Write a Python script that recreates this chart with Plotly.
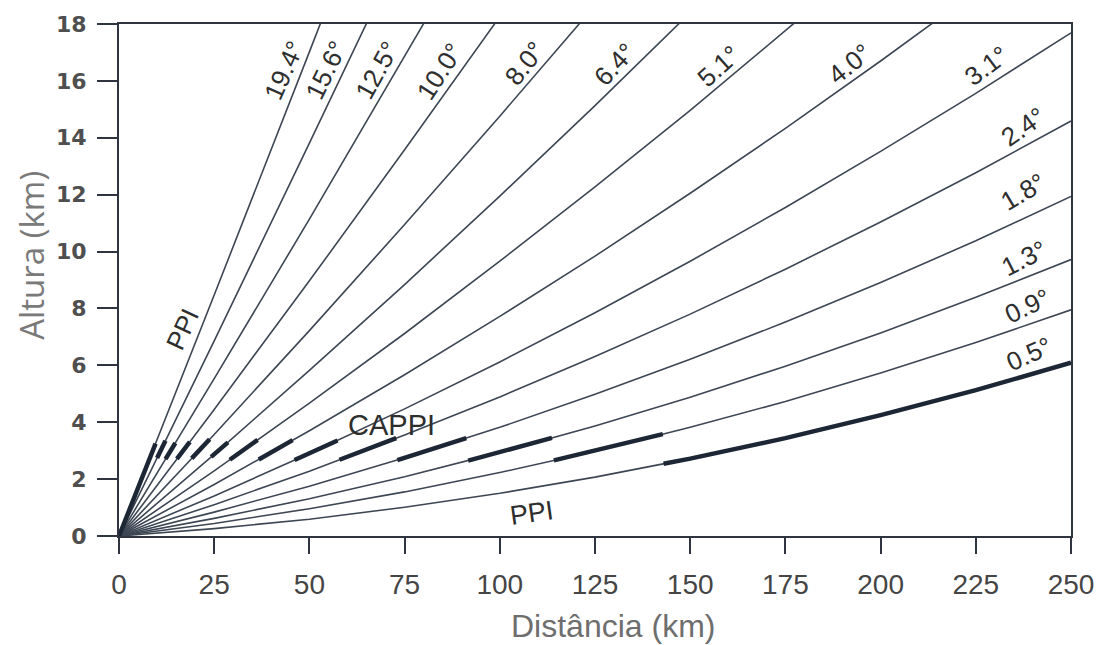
import plotly.graph_objects as go

# Beam height (km) versus range (km) for each elevation angle
distance_km = [0, 25, 50, 75, 100, 125, 150, 175, 200, 225, 250]
angles = ["0.5°", "0.9°", "1.3°", "1.8°", "2.4°", "3.1°", "4.0°",
          "5.1°", "6.4°", "8.0°", "10.0°", "12.5°", "15.6°", "19.4°"]

h_05 = [0, 0.26, 0.59, 1.01, 1.50, 2.07, 2.72, 3.44, 4.25, 5.13, 6.09]
h_09 = [0, 0.44, 0.96, 1.55, 2.23, 2.98, 3.82, 4.73, 5.73, 6.80, 7.95]
h_13 = [0, 0.62, 1.31, 2.08, 2.94, 3.87, 4.88, 5.97, 7.14, 8.39, 9.72]
h_18 = [0, 0.84, 1.75, 2.75, 3.82, 4.98, 6.21, 7.52, 8.91, 10.38, 11.94]
h_24 = [0, 1.10, 2.28, 3.55, 4.89, 6.31, 7.80, 9.38, 11.04, 12.77, 14.59]
h_31 = [0, 1.41, 2.90, 4.47, 6.12, 7.85, 9.66, 11.55, 13.52, 15.56, 17.69]
h_40 = [0, 1.81, 3.70, 5.67, 7.72, 9.84, 12.05, 14.33, 16.70, 19.14]
h_51 = [0, 2.29, 4.67, 7.12, 9.66, 12.27, 14.96, 17.73, 20.58]
h_64 = [0, 2.87, 5.82, 8.84, 11.95, 15.13, 18.40]
h_80 = [0, 3.57, 7.22, 10.95, 14.76, 18.65]
h_100 = [0, 4.45, 8.97, 13.58, 18.26]
h_125 = [0, 5.53, 11.14, 16.83, 22.60]
h_156 = [0, 6.86, 13.81, 20.83]
h_194 = [0, 8.47, 17.02, 25.64]

heights = [h_05, h_09, h_13, h_18, h_24, h_31, h_40,
           h_51, h_64, h_80, h_100, h_125, h_156, h_194]

# CAPPI (3 km) pieces taken from each elevation: start/end range and height
cappi_r0 = [143.0, 114.2, 91.7, 73.1, 57.9, 46.1, 36.7, 29.1, 24.2, 19.1, 15.2, 12.2, 10.0, 0.0]
cappi_r1 = [250.0, 142.8, 113.7, 91.2, 72.8, 57.4, 45.6, 36.4, 28.6, 23.8, 18.6, 14.8, 12.2, 9.6]
cappi_h0 = [2.54, 2.66, 2.65, 2.67, 2.68, 2.67, 2.69, 2.68, 2.78, 2.73, 2.71, 2.70, 2.74, 0.0]
cappi_h1 = [6.09, 3.58, 3.45, 3.44, 3.44, 3.36, 3.37, 3.38, 3.29, 3.40, 3.31, 3.27, 3.35, 3.25]

# label anchor (km, km) and text rotation for each elevation
label_x = [239.0, 238.5, 237.9, 237.4, 237.4, 227.7, 191.8, 157.5, 130.2, 106.6, 84.1, 67.9, 54.5, 43.5]
label_y = [6.39, 8.10, 9.76, 12.09, 14.38, 16.54, 16.61, 16.54, 16.61, 16.64, 16.33, 16.37, 16.37, 16.37]
label_rot = [-24, -25, -27, -31, -35, -37, -39, -42, -47, -52, -57, -61, -64, -66]

LINE = "#3d4654"
THICK = "#1d2634"
TXT = "#2e2e2e"

fig = go.Figure()

for name, h in zip(angles, heights):
    fig.add_trace(go.Scatter(
        x=distance_km[:len(h)], y=h, mode="lines", name=name,
        line=dict(color=LINE, width=1.6), hoverinfo="skip", showlegend=False))

# thick CAPPI pieces; the 0.5° piece follows the curve to the edge
for i, name in enumerate(angles):
    xs = [cappi_r0[i]]
    ys = [cappi_h0[i]]
    if i == 0:
        for d, hv in zip(distance_km, h_05):
            if cappi_r0[i] < d <= cappi_r1[i]:
                xs.append(d)
                ys.append(hv)
    else:
        xs.append(cappi_r1[i])
        ys.append(cappi_h1[i])
    fig.add_trace(go.Scatter(
        x=xs, y=ys, mode="lines", line=dict(color=THICK, width=4.5),
        hoverinfo="skip", showlegend=False))

for name, lx, ly, rot in zip(angles, label_x, label_y, label_rot):
    fig.add_annotation(x=lx, y=ly, text=name, showarrow=False, textangle=rot,
                       font=dict(family="Liberation Sans, Arial", size=26, color=TXT))

fig.add_annotation(x=16.8, y=7.26, text="PPI", showarrow=False, textangle=-65,
                   font=dict(family="Liberation Sans, Arial", size=26, color=TXT))
fig.add_annotation(x=108.5, y=0.80, text="PPI", showarrow=False, textangle=-8,
                   font=dict(family="Liberation Sans, Arial", size=27, color=TXT))
fig.add_annotation(x=71.5, y=3.89, text="CAPPI", showarrow=False,
                   font=dict(family="Liberation Sans, Arial", size=29, color=TXT))

# axis titles
fig.add_annotation(xref="paper", yref="paper", x=-0.092, y=0.548, text="Altura (km)",
                   showarrow=False, textangle=-90, xanchor="center", yanchor="middle",
                   font=dict(family="Open Sans, DejaVu Sans", size=33, color="#7a7a7a"))
fig.add_annotation(xref="paper", yref="paper", x=0.519, y=-0.176, text="Distância (km)",
                   showarrow=False, xanchor="center", yanchor="middle",
                   font=dict(family="Liberation Sans", size=32, color="#6e6e6e"))

axis_common = dict(showline=True, linewidth=2, linecolor="#2f3540", mirror=True,
                   ticks="outside", tickwidth=2, tickcolor="#2f3540",
                   showgrid=False, zeroline=False, ticklabeloverflow="allow")

fig.update_xaxes(range=[0, 250], tick0=0, dtick=25, ticklen=16,
                 tickfont=dict(family="Liberation Sans", size=28, color="#454545"),
                 ticklabelstandoff=6, **axis_common)
fig.update_yaxes(range=[0, 18], tick0=0, dtick=2, ticklen=20,
                 tickfont=dict(family="DejaVu Sans", size=22, color="#4f4f4f", weight="bold"),
                 ticklabelstandoff=6, **axis_common)

fig.update_layout(
    width=1106, height=645,
    margin=dict(l=119, r=24, t=15, b=109),
    paper_bgcolor="white", plot_bgcolor="white",
)

fig.write_html("out.html")
